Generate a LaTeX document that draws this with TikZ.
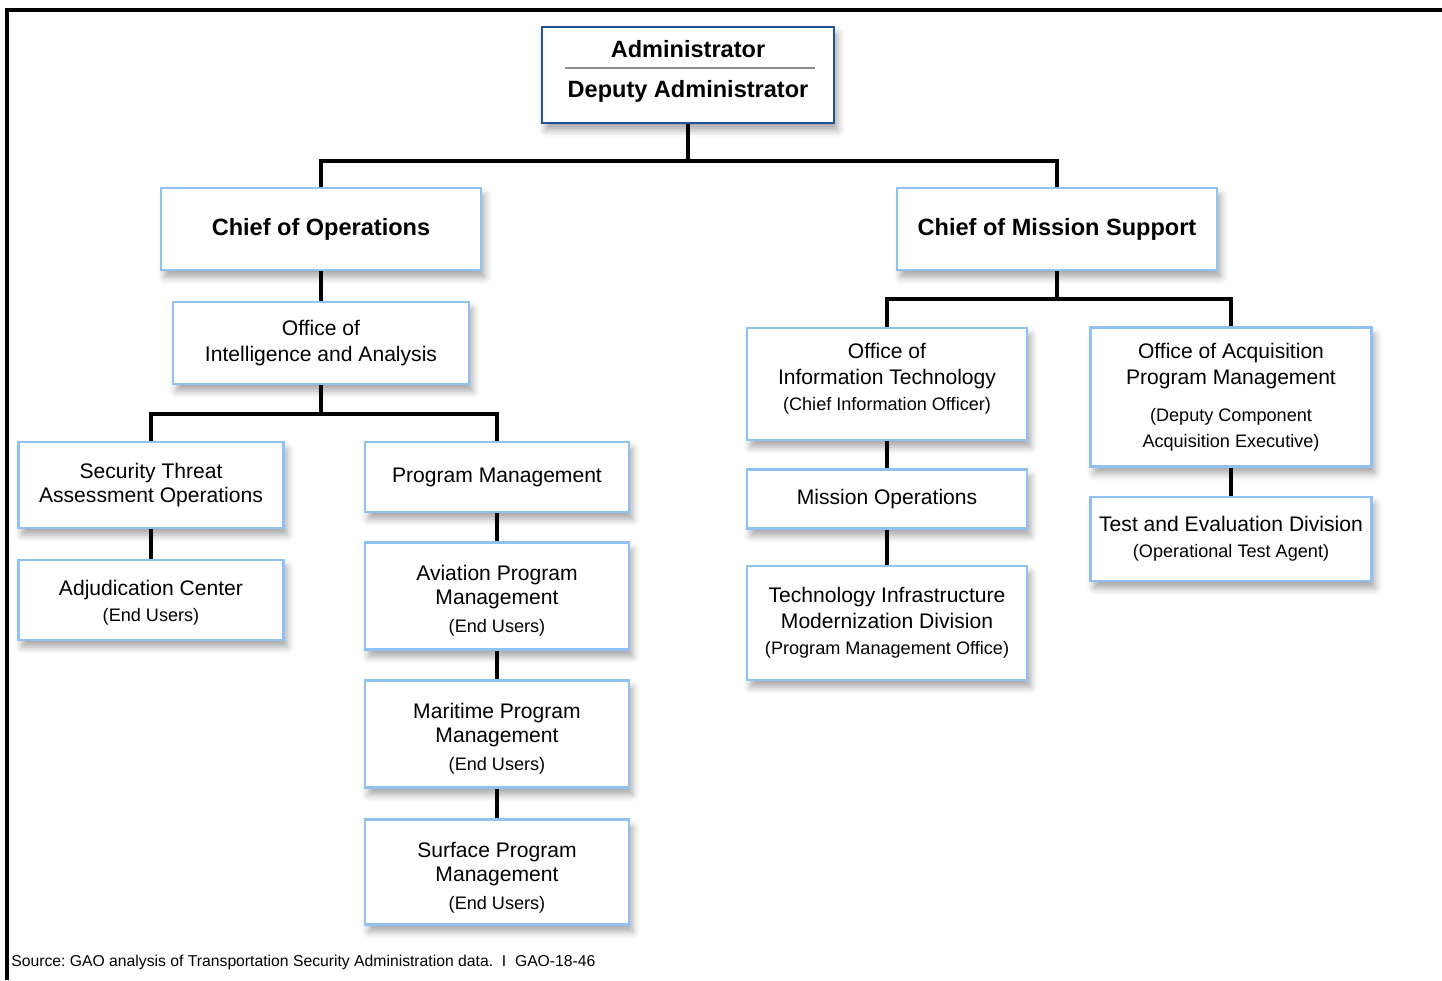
\documentclass[tikz,border=0pt]{standalone}
\usepackage{fontspec}
\setmainfont{Liberation Sans}
\usetikzlibrary{shadows.blur}

\definecolor{boxblue}{RGB}{145,192,242}
\definecolor{adminblue}{RGB}{32,82,150}
\newcommand{\sm}[1]{{\fontsize{10.3}{13}\selectfont #1}}
\newcommand{\up}[1]{\rule{0pt}{#1}}
\newcommand{\dn}[1]{\rule[-#1]{0pt}{0pt}}

\tikzset{
  box/.style={draw=boxblue, line width=1.3pt, fill=white, align=center, inner sep=0pt,
    blur shadow={shadow xshift=2pt, shadow yshift=-4pt, shadow blur radius=4pt, shadow opacity=35},
    font=\fontsize{12}{14.8}\selectfont},
  head/.style={font=\fontsize{13.4}{16}\selectfont\bfseries},
  link/.style={line width=2.4pt},
}

\begin{document}
\begin{tikzpicture}[x=0.02cm, y=-0.02cm]
    \useasboundingbox (0,0) rectangle (1442,980);
    \draw[line width=1.8pt] (1442,10) -- (7,10) -- (7,980);
    % top
    \node[box, head, draw=adminblue, minimum width=5.84cm, minimum height=1.92cm] (admin) at (688,75) {Administrator\\[6.8pt]Deputy Administrator\dn{7.3pt}};
    \draw[black!45, line width=0.7pt] (565,68) -- (815,68);
    \node[box, head, minimum width=6.4cm, minimum height=1.64cm] (cops) at (321,229) {Chief of Operations};
    \node[box, head, minimum width=6.4cm, minimum height=1.64cm] (cms) at (1057,229) {Chief of Mission Support};
    % operations side
    \node[box, minimum width=5.92cm, minimum height=1.64cm] (oia) at (321,343) {Office of\\Intelligence and Analysis};
    \node[box, minimum width=5.3cm, minimum height=1.72cm] (stao) at (151,485) {Security Threat\\[-1pt]Assessment Operations};
    \node[box, minimum width=5.3cm, minimum height=1.6cm] (adj) at (151,600) {\up{12.2pt}Adjudication Center\\\sm{(End Users)}};
    \node[box, minimum width=5.28cm, minimum height=1.4cm] (pm) at (497,477) {Program Management};
    \node[box, minimum width=5.28cm, minimum height=2.14cm] (avi) at (497,596) {\up{14.4pt}Aviation Program\\[-1.2pt]Management\\[1.2pt]\sm{(End Users)}};
    \node[box, minimum width=5.28cm, minimum height=2.14cm] (mar) at (497,734) {\up{14.4pt}Maritime Program\\[-1.2pt]Management\\[1.2pt]\sm{(End Users)}};
    \node[box, minimum width=5.28cm, minimum height=2.1cm] (sur) at (497,872) {\up{15pt}Surface Program\\[-1.2pt]Management\\[1.2pt]\sm{(End Users)}};
    % mission support side
    \node[box, minimum width=5.6cm, minimum height=2.24cm] (oit) at (887,384) {Office of\\Information Technology\\\sm{(Chief Information Officer)}\dn{7.9pt}};
    \node[box, minimum width=5.6cm, minimum height=1.18cm] (mops) at (887,499) {Mission Operations};
    \node[box, minimum width=5.6cm, minimum height=2.28cm] (timd) at (887,623) {Technology Infrastructure\\Modernization Division\\\sm{(Program Management Office)}};
    \node[box, minimum width=5.62cm, minimum height=2.78cm] (oapm) at (1231,397) {Office of Acquisition\\Program Management\\[6pt]\sm{(Deputy Component}\\\sm{Acquisition Executive)}};
    \node[box, minimum width=5.62cm, minimum height=1.68cm] (ted) at (1231,539) {Test and Evaluation Division\\\sm{(Operational Test Agent)}};
    % links
    \draw[link] (admin.south) -- ++(0,37) -| (cops.north);
    \draw[link] (admin.south) -- ++(0,37) -| (cms.north);
    \draw[link] (cops) -- (oia);
    \draw[link] (oia.south) -- ++(0,29) -| (stao.north);
    \draw[link] (oia.south) -- ++(0,29) -| (pm.north);
    \draw[link] (stao) -- (adj);
    \draw[link] (pm) -- (avi);
    \draw[link] (avi) -- (mar);
    \draw[link] (mar) -- (sur);
    \draw[link] (cms.south) -- ++(0,28) -| (oit.north);
    \draw[link] (cms.south) -- ++(0,28) -| (oapm.north);
    \draw[link] (oit) -- (mops);
    \draw[link] (mops) -- (timd);
    \draw[link] (oapm) -- (ted);
    % source
    \node[anchor=base west, font=\fontsize{8.95}{10}\selectfont\frenchspacing, inner sep=0pt] (src) at (11,966) {Source: GAO analysis of Transportation Security Administration data.~~I~~GAO-18-46};
\end{tikzpicture}
\end{document}
